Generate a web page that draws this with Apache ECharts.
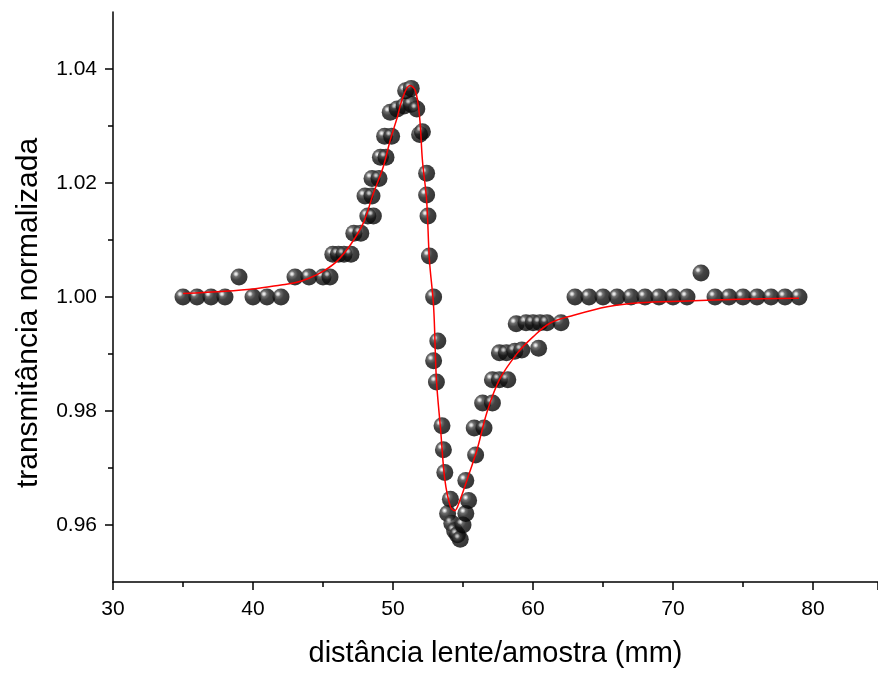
<!DOCTYPE html>
<html>
<head>
<meta charset="utf-8">
<script src="https://cdn.jsdelivr.net/npm/echarts@6/dist/echarts.min.js"></script>
<style>
html,body{margin:0;padding:0;background:#fff;}
#chart{width:878px;height:673px;}
</style>
</head>
<body>
<div id="chart"></div>
<script>
// measured points
var dataX = [35,36,37,38,39,40,41,42,43,44,45,45.5,45.7,46.1,46.5,47.0,47.2,47.7,48.2,48.6,48.0,48.5,48.5,49.0,49.1,49.5,49.4,49.9,49.8,50.3,50.8,51.3,51.7,50.9,51.3,51.9,52.1,52.4,52.4,52.5,52.6,52.9,53.2,52.9,53.1,53.5,53.6,53.7,54.1,53.9,54.2,54.4,54.6,54.8,55.0,55.2,55.4,55.2,55.9,55.8,56.5,56.4,57.1,57.1,57.6,58.2,57.6,58.1,58.7,59.2,60.4,58.8,59.5,60.0,60.5,61.0,62.0,63,64,65,66,67,68,69,70,71,72,73,74,75,76,77,78,79];
var dataY = [1.000,1.000,1.000,1.000,1.0035,1.000,1.000,1.000,1.0035,1.0035,1.0035,1.0035,1.0075,1.0075,1.0075,1.0075,1.0112,1.0112,1.0142,1.0142,1.0177,1.0177,1.0208,1.0208,1.0245,1.0245,1.0282,1.0282,1.0324,1.0330,1.0335,1.0338,1.0330,1.0362,1.0366,1.0285,1.0290,1.0217,1.0179,1.0142,1.0072,1.000,0.9923,0.9888,0.9851,0.9774,0.9732,0.9692,0.9645,0.9620,0.9603,0.9590,0.9583,0.9575,0.9600,0.9620,0.9643,0.9678,0.9723,0.9770,0.9770,0.9814,0.9814,0.9855,0.9855,0.9855,0.9902,0.9902,0.9905,0.9907,0.9910,0.9953,0.9955,0.9955,0.9955,0.9955,0.9955,1.000,1.000,1.000,1.000,1.000,1.000,1.000,1.000,1.000,1.0042,1.000,1.000,1.000,1.000,1.000,1.000,1.000];
// fitted curve
var fitX = [35,38,40,42,43,44,45,46,47,47.9,48.6,49.3,49.8,50.3,50.7,51.2,51.6,51.9,52.1,52.4,52.6,52.9,53.1,53.4,53.7,54.1,54.4,54.8,55.3,56.0,56.7,57.6,58.9,60.0,61.2,62.9,65.3,67.6,71,74.8,79];
var fitY = [1.0006,1.0010,1.0014,1.0021,1.0025,1.0033,1.0045,1.0063,1.0093,1.0131,1.0182,1.0228,1.0275,1.0315,1.0350,1.0371,1.0362,1.0315,1.0240,1.0170,1.0065,0.9983,0.9855,0.9767,0.9680,0.9632,0.9625,0.9645,0.9680,0.9732,0.9797,0.9855,0.9902,0.9930,0.9954,0.9968,0.9983,0.9990,0.9993,0.9996,0.9998];
var xTicks = [30,40,50,60,70,80];
var yTicks = [0.96,0.98,1.00,1.02,1.04];
var yMinorTicks = [0.97,0.99,1.01,1.03];
var xTitle = 'distância lente/amostra (mm)';
var yTitle = 'transmitância normalizada';

var scatterData = dataX.map(function(x,i){return [x,dataY[i]];});
var fitData = fitX.map(function(x,i){return [x,fitY[i]];});

var font = 'Liberation Sans, Arial, sans-serif';
var chart = echarts.init(document.getElementById('chart'));
chart.setOption({
  animation:false,
  backgroundColor:'#fff',
  grid:{left:113,right:0,top:12,bottom:91,containLabel:false},
  graphic:[{
    type:'text', x:29, y:313, rotation:Math.PI/2,
    style:{text:yTitle, fontFamily:font, fontSize:30, fill:'#000',
      align:'center', verticalAlign:'middle'}
  }],
  xAxis:[{
    type:'value', min:30, max:84.64, interval:10,
    name:xTitle, nameLocation:'middle', nameGap:57,
    nameTextStyle:{fontFamily:font,fontSize:29,color:'#000'},
    axisLine:{show:true,lineStyle:{color:'#000',width:1.5}},
    axisTick:{show:true,length:8,lineStyle:{color:'#000',width:1.5}},
    minorTick:{show:true,splitNumber:2,length:5,lineStyle:{color:'#000',width:1.5}},
    axisLabel:{fontFamily:font,fontSize:21,color:'#000',margin:17,
      customValues:xTicks, formatter:function(v){return String(v);}},
    splitLine:{show:false}, minorSplitLine:{show:false}
  }],
  yAxis:[{
    type:'value', min:0.95, max:1.05,
    axisLine:{show:true,lineStyle:{color:'#000',width:1.5}},
    axisTick:{show:true,length:8,customValues:yTicks,lineStyle:{color:'#000',width:1.5}},
    axisLabel:{fontFamily:font,fontSize:21,color:'#000',margin:16,
      customValues:yTicks, formatter:function(v){return v.toFixed(2);}},
    splitLine:{show:false}
  },{
    type:'value', min:0.95, max:1.05, position:'left',
    axisLine:{show:false},
    axisTick:{show:true,length:5,customValues:yMinorTicks,lineStyle:{color:'#000',width:1.5}},
    axisLabel:{show:false},
    splitLine:{show:false}
  }],
  series:[{
    type:'scatter', data:scatterData, symbol:'circle', symbolSize:17,
    itemStyle:{color:{type:'radial',x:0.32,y:0.32,r:0.78,colorStops:[
      {offset:0,color:'#ffffff'},{offset:0.1,color:'#c4c4c4'},
      {offset:0.22,color:'#4a4a4a'},{offset:0.45,color:'#141414'},{offset:1,color:'#000'}]}},
    z:2
  },{
    type:'line', data:fitData, smooth:0.35, showSymbol:false,
    lineStyle:{color:'#ff0000',width:1.5}, z:3
  }]
});
</script>
</body>
</html>
